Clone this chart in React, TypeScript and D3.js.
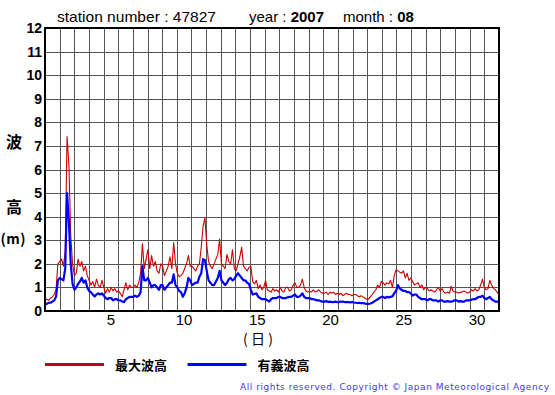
import React from "react";
import * as d3 from "d3";

// Station / header texts
const stationNumber = "47827";
const year = "2007";
const month = "08";

// Y axis ticks (m) and x axis day labels
const yTicks = [0, 1, 2, 3, 4, 5, 6, 7, 8, 9, 10, 11, 12];
const xLabelDays = [5, 10, 15, 20, 25, 30];
const daysInMonth = 31;

// 3-hourly values (8 per day), day 1 .. day 31
// 最大波高 (max wave height, m)
const maxWave = [
  0.45, 0.5, 0.45, 0.55, 0.6, 0.7, 0.9, 2.0, // 1
  2.1, 2.2, 1.9, 2.5, 7.4, 6.2, 3.2, 2.0, // 2
  1.5, 1.6, 2.2, 1.9, 2.1, 1.7, 1.9, 1.5, // 3
  1.3, 1.1, 1.25, 1.0, 1.35, 1.1, 1.0, 1.3, // 4
  1.0, 0.75, 0.95, 0.8, 1.0, 0.85, 0.95, 0.8, // 5
  0.85, 0.75, 0.6, 0.9, 1.2, 0.9, 1.1, 1.0, // 6
  1.0, 1.1, 1.0, 1.2, 1.6, 2.85, 1.8, 2.2, // 7
  2.6, 1.8, 2.35, 1.9, 2.1, 1.7, 1.6, 2.0, // 8
  1.9, 1.5, 1.7, 1.9, 2.3, 1.8, 2.9, 2.0, // 9
  1.6, 1.45, 1.5, 1.6, 1.8, 2.0, 2.35, 1.9, // 10
  1.9, 1.8, 1.7, 1.9, 2.0, 2.7, 3.6, 3.95, // 11
  2.8, 2.1, 1.9, 1.8, 2.0, 2.2, 2.4, 3.05, // 12
  2.0, 1.9, 1.8, 2.4, 2.1, 2.0, 2.6, 1.8, // 13
  1.7, 2.0, 2.3, 2.7, 1.9, 1.8, 1.7, 1.85, // 14
  1.9, 1.25, 1.15, 1.3, 0.95, 1.1, 0.9, 1.0, // 15
  1.3, 0.9, 0.85, 0.8, 0.95, 0.85, 0.9, 0.8, // 16
  1.0, 0.85, 0.8, 1.0, 1.0, 0.85, 0.9, 1.1, // 17
  1.2, 1.0, 1.0, 1.1, 1.35, 1.0, 0.85, 0.8, // 18
  0.85, 0.8, 0.9, 0.8, 0.85, 0.9, 0.8, 0.75, // 19
  0.75, 0.8, 0.7, 0.8, 0.75, 0.8, 0.7, 0.75, // 20
  0.7, 0.75, 0.65, 0.7, 0.75, 0.7, 0.7, 0.65, // 21
  0.7, 0.7, 0.65, 0.6, 0.65, 0.6, 0.55, 0.5, // 22
  0.5, 0.6, 0.7, 0.8, 0.9, 1.1, 1.0, 1.25, // 23
  1.2, 1.1, 1.2, 1.15, 1.3, 1.0, 1.5, 1.75, // 24
  1.7, 1.65, 1.6, 1.7, 1.4, 1.6, 1.3, 1.4, // 25
  1.25, 1.1, 1.15, 1.2, 1.0, 1.1, 0.9, 1.0, // 26
  0.95, 0.85, 0.9, 0.85, 0.8, 0.9, 1.0, 0.85, // 27
  0.95, 0.8, 0.75, 0.8, 0.75, 1.05, 0.85, 0.8, // 28
  0.8, 0.75, 0.8, 0.8, 0.85, 0.8, 0.75, 0.8, // 29
  0.9, 0.85, 0.95, 0.85, 0.9, 1.1, 1.35, 1.0, // 30
  0.9, 0.95, 1.3, 1.1, 0.95, 0.9, 0.8, 0.7, // 31
];

// 有義波高 (significant wave height, m)
const sigWave = [
  0.3, 0.3, 0.35, 0.35, 0.4, 0.45, 0.6, 1.3, // 1
  1.4, 1.35, 1.3, 1.8, 5.0, 3.8, 2.0, 1.15, // 2
  0.9, 1.0, 1.15, 1.25, 1.4, 1.2, 1.3, 1.0, // 3
  0.85, 0.8, 0.7, 0.62, 0.7, 0.75, 0.7, 0.75, // 4
  0.65, 0.55, 0.5, 0.55, 0.55, 0.45, 0.5, 0.5, // 5
  0.45, 0.45, 0.4, 0.38, 0.5, 0.55, 0.6, 0.6, // 6
  0.6, 0.65, 0.6, 0.65, 0.8, 1.9, 1.3, 1.3, // 7
  1.4, 1.2, 1.0, 1.1, 1.1, 1.0, 0.9, 1.1, // 8
  1.1, 0.9, 1.0, 1.1, 1.2, 1.2, 1.55, 1.1, // 9
  1.0, 0.85, 0.8, 0.6, 0.75, 1.0, 1.4, 1.3, // 10
  1.1, 1.15, 1.2, 1.2, 1.45, 1.6, 2.2, 2.15, // 11
  1.7, 1.3, 1.2, 1.1, 1.1, 1.25, 1.4, 1.7, // 12
  1.3, 1.2, 1.1, 1.2, 1.35, 1.4, 1.3, 1.35, // 13
  1.5, 1.6, 1.5, 1.4, 1.3, 1.3, 1.2, 1.15, // 14
  0.9, 0.7, 0.72, 0.75, 0.6, 0.55, 0.5, 0.5, // 15
  0.5, 0.45, 0.4, 0.5, 0.55, 0.55, 0.55, 0.6, // 16
  0.6, 0.55, 0.55, 0.55, 0.58, 0.6, 0.6, 0.65, // 17
  0.7, 0.6, 0.6, 0.65, 0.75, 0.6, 0.55, 0.55, // 18
  0.55, 0.5, 0.5, 0.48, 0.45, 0.45, 0.42, 0.4, // 19
  0.4, 0.42, 0.38, 0.4, 0.38, 0.38, 0.4, 0.37, // 20
  0.38, 0.4, 0.4, 0.38, 0.38, 0.38, 0.36, 0.38, // 21
  0.36, 0.35, 0.34, 0.35, 0.33, 0.33, 0.32, 0.3, // 22
  0.3, 0.32, 0.35, 0.4, 0.45, 0.5, 0.55, 0.6, // 23
  0.6, 0.55, 0.6, 0.58, 0.6, 0.62, 0.75, 0.85, // 24
  1.1, 0.95, 0.9, 0.85, 0.85, 0.8, 0.8, 0.75, // 25
  0.65, 0.7, 0.7, 0.6, 0.55, 0.5, 0.5, 0.5, // 26
  0.45, 0.5, 0.5, 0.45, 0.45, 0.45, 0.4, 0.45, // 27
  0.45, 0.4, 0.4, 0.42, 0.4, 0.4, 0.42, 0.45, // 28
  0.45, 0.4, 0.42, 0.4, 0.4, 0.45, 0.45, 0.45, // 29
  0.48, 0.5, 0.5, 0.55, 0.6, 0.6, 0.65, 0.55, // 30
  0.5, 0.55, 0.6, 0.5, 0.45, 0.4, 0.4, 0.4, // 31
];

const legendItems = [
  { label: "最大波高", color: "#cc0000" },
  { label: "有義波高", color: "#0000ff" },
];

const W = 555;
const H = 395;
const plot = { left: 45, right: 499, top: 28, bottom: 311 };

export default function App() {
  const x = d3.scaleLinear().domain([0, daysInMonth]).range([plot.left, plot.right]);
  const y = d3.scaleLinear().domain([0, 12]).range([plot.bottom, plot.top]);

  const n = maxWave.length;
  const tOf = (i: number) => (i * daysInMonth) / (n - 1);
  const line = d3
    .line<number>()
    .x((_, i) => x(tOf(i)))
    .y((v) => y(v));

  const dayLines = d3.range(1, daysInMonth);
  const jp = "'Noto Sans CJK JP', sans-serif";
  const sans = "'Liberation Sans', Arial, sans-serif";

  return (
    <svg
      width={W}
      height={H}
      viewBox={`0 0 ${W} ${H}`}
      style={{ position: "absolute", left: 0, top: 0, background: "#fff" }}
    >
      <rect x={0} y={0} width={W} height={H} fill="#fff" />
      {/* header */}
      <g fontFamily={sans} fontSize={15} fill="#000">
        <text x={57} y={22} textLength={159} lengthAdjust="spacingAndGlyphs">
          station number : {stationNumber}
        </text>
        <text x={249} y={22}>
          year : <tspan fontWeight="bold">{year}</tspan>
        </text>
        <text x={343} y={22}>
          month : <tspan fontWeight="bold">{month}</tspan>
        </text>
      </g>

      {/* grid */}
      <g stroke="#555" strokeWidth={1} shapeRendering="crispEdges">
        {dayLines.map((d) => (
          <line key={"v" + d} x1={Math.round(x(d)) + 0.5} x2={Math.round(x(d)) + 0.5} y1={plot.top} y2={plot.bottom} />
        ))}
        {yTicks.slice(1, -1).map((v) => (
          <line key={"h" + v} x1={plot.left} x2={plot.right} y1={Math.round(y(v)) + 0.5} y2={Math.round(y(v)) + 0.5} />
        ))}
      </g>

      {/* series */}
      <path d={line(maxWave) || ""} fill="none" stroke="#cc0000" strokeWidth={1.1} strokeLinejoin="round" />
      <path d={line(sigWave) || ""} fill="none" stroke="#0000ff" strokeWidth={2.2} strokeLinejoin="round" />

      {/* frame */}
      <rect
        x={plot.left}
        y={plot.top}
        width={plot.right - plot.left}
        height={plot.bottom - plot.top}
        fill="none"
        stroke="#000"
        strokeWidth={2}
      />

      {/* y tick labels */}
      <g fontFamily={sans} fontSize={14} fontWeight="bold" textAnchor="end" fill="#000">
        {yTicks.map((v) => (
          <text key={"yl" + v} x={42} y={y(v) + 5}>
            {v}
          </text>
        ))}
      </g>

      {/* x tick labels */}
      <g fontFamily={sans} fontSize={15} textAnchor="middle" fill="#000">
        {xLabelDays.map((d) => (
          <text key={"xl" + d} x={x(d - 0.5)} y={325}>
            {d}
          </text>
        ))}
      </g>
      <text x={258} y={344} fontFamily={jp} fontSize={14} textAnchor="middle" textLength={30} lengthAdjust="spacing">
        (日)
      </text>

      {/* y axis title */}
      <g fontFamily={jp} fontSize={16} fontWeight="bold" textAnchor="middle" fill="#000">
        <text x={14} y={148}>波</text>
        <text x={14} y={213}>高</text>
        <text x={13} y={244} fontSize={14} textLength={25} lengthAdjust="spacing">(m)</text>
      </g>

      {/* legend */}
      {legendItems.map((it, i) => {
        const x0 = 45 + i * 142.5;
        return (
          <g key={it.label}>
            <line x1={x0} x2={x0 + 59} y1={364.5} y2={364.5} stroke={it.color} strokeWidth={3} />
            <text x={x0 + 70} y={369.5} fontFamily={jp} fontSize={13} fontWeight="bold" fill="#000">
              {it.label}
            </text>
          </g>
        );
      })}

      {/* copyright */}
      <text
        x={240}
        y={390}
        fontFamily="'DejaVu Sans', sans-serif"
        fontSize={9}
        fill="#3c3ce0"
        textLength={309}
        lengthAdjust="spacing"
      >
        All rights reserved. Copyright © Japan Meteorological Agency
      </text>
    </svg>
  );
}
